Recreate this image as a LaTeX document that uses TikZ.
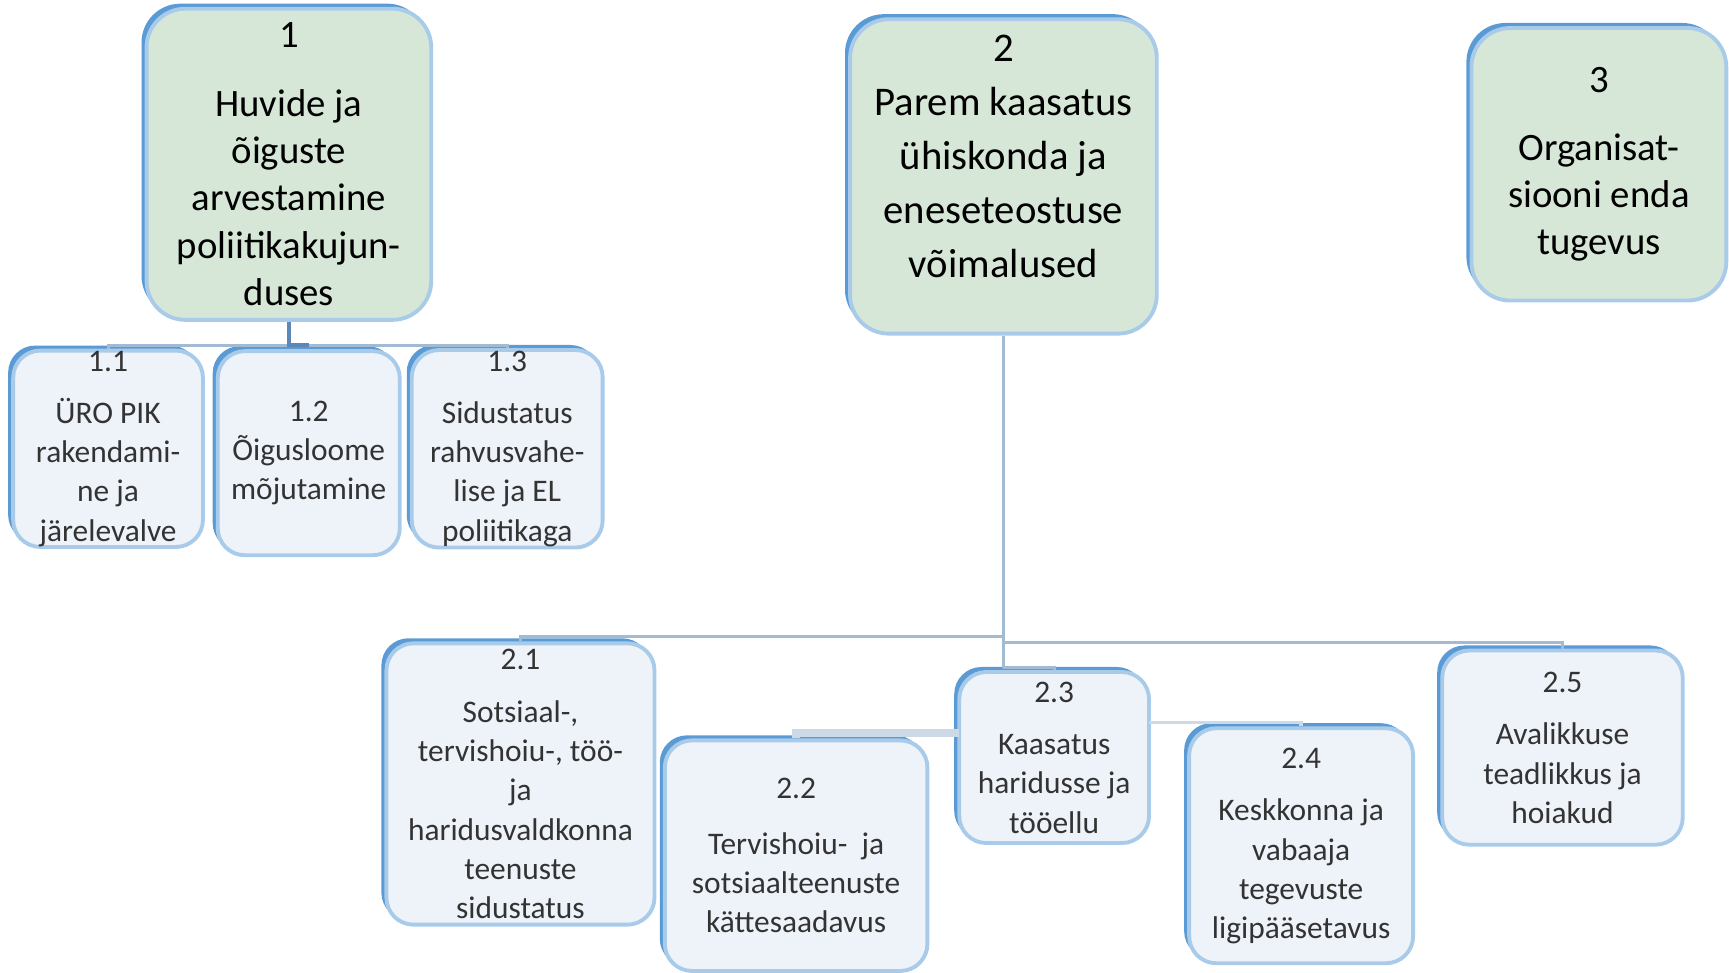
\documentclass[tikz,border=0pt]{standalone}
\usepackage{fontspec}
\setmainfont{Carlito}
\usepackage{xcolor}
\usepackage{tikz}
\usetikzlibrary{shadows}

\definecolor{boxgreen}{HTML}{D6E6D7}
\definecolor{boxpale}{HTML}{EEF3FA}
\definecolor{rimdark}{HTML}{5B9BD5}
\definecolor{rimlight}{HTML}{A9CBEA}
\definecolor{linkblue}{HTML}{A3BAD3}
\definecolor{linkpale}{HTML}{CCDAE8}
\definecolor{hubblue}{HTML}{5D87B6}

\begin{document}
\begin{tikzpicture}[x=0.01cm, y=-0.01cm, thick,
    B node/.style={draw=rimlight, line width=1pt, align=center, inner ysep=0pt, inner xsep=2pt,
        general shadow={shadow xshift=-1.3pt, shadow yshift=1.3pt, fill=rimdark}},
    G node/.style={B node, rounded corners=10pt, fill=boxgreen, font=\fontsize{10}{12.2}\selectfont},
    S node/.style={B node, rounded corners=7pt, fill=boxpale, text=black!80, font=\fontsize{8.1}{10.1}\selectfont},
    link/.style={draw=linkblue, line width=0.8pt},
    pale link/.style={draw=linkpale, line width=0.9pt}]
    \useasboundingbox (0,0) rectangle (1568,882);

    % top level
    \node[G node, minimum width=2.58cm, minimum height=2.82cm] (G1) at (262,149) {1\\[5.4pt] Huvide ja\\ õiguste\\ arvestamine\\ poliitikakujun-\\ duses};
    \node[G node, minimum width=2.78cm, minimum height=2.85cm, text depth=10.5pt, font=\fontsize{10.5}{13.9}\selectfont] (G2) at (910,160) {2\\ Parem kaasatus\\ ühiskonda ja\\ eneseteostuse\\ võimalused};
    \node[G node, minimum width=2.31cm, minimum height=2.47cm] (G3) at (1450,149) {3\\[5.4pt] Organisat-\\ siooni enda\\ tugevus};

    % level 1.x
    \node[S node, minimum width=1.72cm, minimum height=1.78cm] (S11) at (98,407) {1.1\\[3.4pt] ÜRO PIK\\ rakendami-\\ ne ja\\ järelevalve};
    \node[S node, minimum width=1.65cm, minimum height=1.85cm] (S12) at (280,411) {1.2\\ Õigusloome\\ mõjutamine};
    \node[S node, minimum width=1.73cm, minimum height=1.79cm] (S13) at (460,407) {1.3\\[3.3pt] Sidustatus\\ rahvusvahe-\\ lise ja EL\\ poliitikaga};

    % level 2.x
    \node[S node, minimum width=2.43cm, minimum height=2.55cm] (S21) at (472,711) {2.1\\[3.5pt] Sotsiaal-,\\ tervishoiu-, töö-\\ ja\\ haridusvaldkonna\\ teenuste\\ sidustatus};
    \node[S node, minimum width=2.38cm, minimum height=2.09cm] (S22) at (722,776) {2.2\\[4.2pt] Tervishoiu-~ ja\\ sotsiaalteenuste\\ kättesaadavus};
    \node[S node, minimum width=1.72cm, minimum height=1.55cm] (S23) at (956,687) {2.3\\[3.5pt] Kaasatus\\ haridusse ja\\ tööellu};
    \node[S node, minimum width=2.03cm, minimum height=2.13cm] (S24) at (1180,767) {2.4\\[3.5pt] Keskkonna ja\\ vabaaja\\ tegevuste\\ ligipääsetavus};
    \node[S node, minimum width=2.18cm, minimum height=1.76cm] (S25) at (1417,678) {2.5\\[3.5pt] Avalikkuse\\ teadlikkus ja\\ hoiakud};

    \coordinate (J1) at (262,313);
    \coordinate (J2) at (909,577);
    \coordinate (J3) at (909,583);
    \coordinate (J4) at (909,605);
    \coordinate (J5) at (870,665);
    \coordinate (J6) at (1042,655);

    % connectors
    \draw[link] (S11.north) |- (J1) -| (S13.north);
    \draw[draw=hubblue, line width=0.9pt] (G1.south) |- (S12.north |- J1);
    \draw[link] (G2.south) |- (J4) -| (S23.north);
    \draw[link] (J2) -| (S21.north);
    \draw[link] (J3) -| (S25.north);
    \draw[pale link, line width=2pt] (J5) -| (S22.north);
    \draw[pale link] (J6) -| (S24.north);
\end{tikzpicture}
\end{document}
